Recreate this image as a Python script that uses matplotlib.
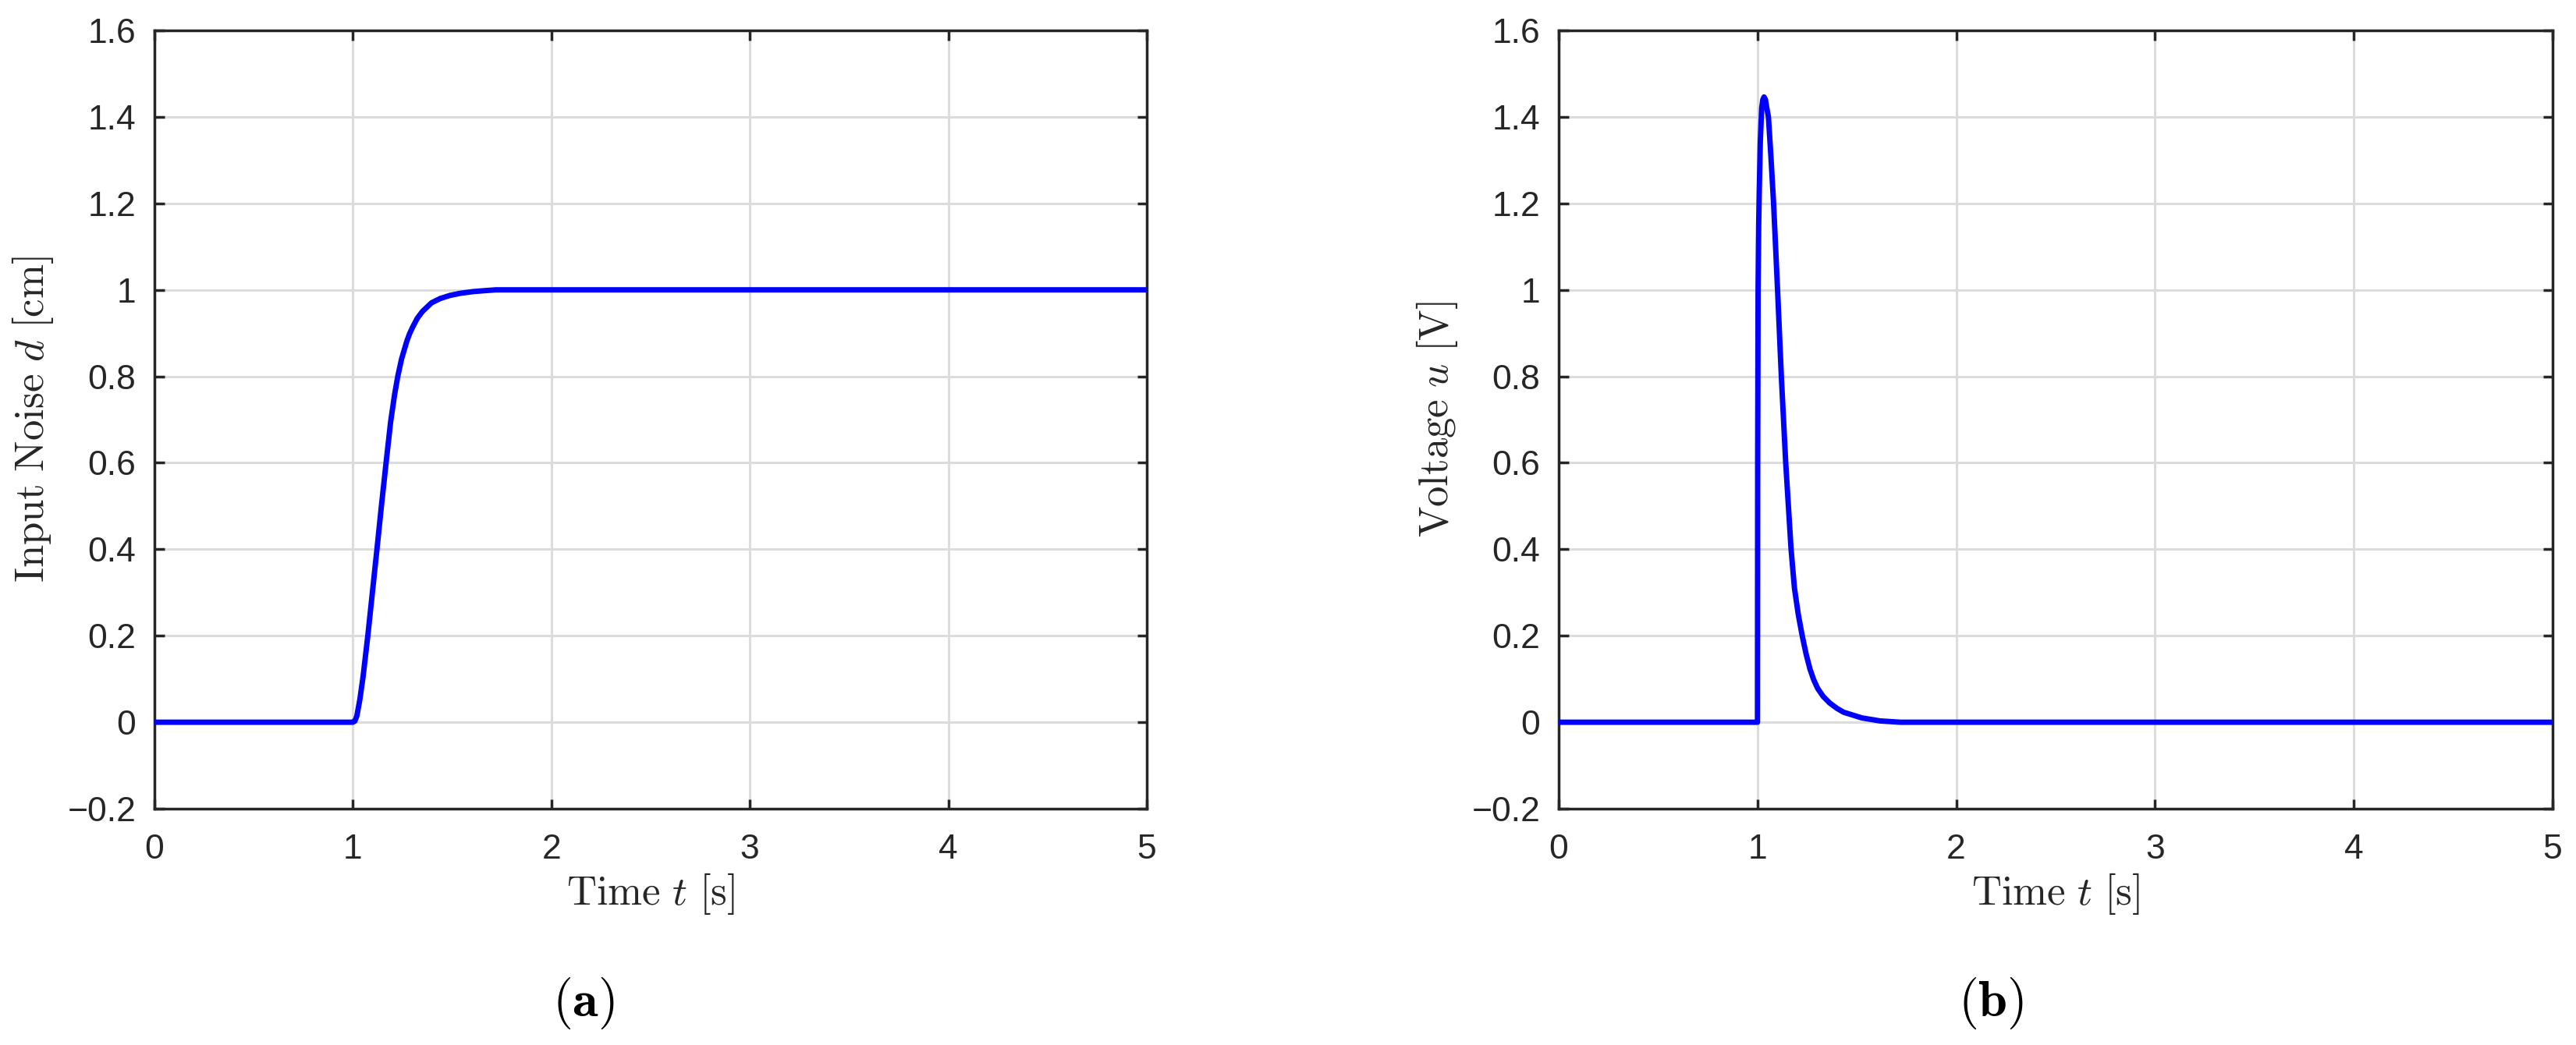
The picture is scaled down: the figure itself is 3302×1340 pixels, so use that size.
import matplotlib
matplotlib.use("Agg")
import matplotlib.pyplot as plt

# values
t_d = [0.0, 1.0, 1.01, 1.02, 1.035, 1.051, 1.075, 1.098, 1.121, 1.143, 1.167, 1.19,
       1.21, 1.226, 1.245, 1.272, 1.285, 1.30, 1.324, 1.35, 1.396, 1.44, 1.488,
       1.54, 1.606, 1.66, 1.72, 5.0]
d = [0.0, 0.0, 0.003, 0.015, 0.053, 0.105, 0.2, 0.3, 0.4, 0.498, 0.6, 0.695,
     0.758, 0.8, 0.84, 0.882, 0.898, 0.913, 0.934, 0.950, 0.970, 0.980, 0.987,
     0.992, 0.996, 0.998, 1.0, 1.0]

t_u = [0.0, 1.0, 1.001, 1.003, 1.006, 1.009, 1.014, 1.021, 1.027, 1.033, 1.040,
       1.047, 1.055, 1.068, 1.081, 1.101, 1.120, 1.142, 1.169, 1.186, 1.205,
       1.225, 1.245, 1.264, 1.283, 1.303, 1.33, 1.362, 1.40, 1.434, 1.525, 1.617,
       1.72, 5.0]
u = [0.0, 0.0, 0.6, 1.0, 1.15, 1.23, 1.34, 1.42, 1.44, 1.446, 1.44, 1.42, 1.4,
     1.305, 1.2, 1.0, 0.8, 0.6, 0.4, 0.31, 0.25, 0.2, 0.157, 0.123, 0.098,
     0.078, 0.06, 0.045, 0.032, 0.023, 0.01, 0.003, 0.0, 0.0]

x_ticks = [0, 1, 2, 3, 4, 5]
y_ticks = [-0.2, 0, 0.2, 0.4, 0.6, 0.8, 1, 1.2, 1.4, 1.6]
y_ticklabels = ["\u22120.2", "0", "0.2", "0.4", "0.6", "0.8", "1", "1.2", "1.4", "1.6"]

xlabel = r"$\mathrm{Time}\ t\ \mathrm{[s]}$"
ylabels = [r"$\mathrm{Input\ Noise}\ d\ \mathrm{[cm]}$", r"$\mathrm{Voltage}\ u\ \mathrm{[V]}$"]
captions = [r"$(\mathbf{a})$", r"$(\mathbf{b})$"]

plt.rcParams["mathtext.fontset"] = "cm"
tick_font = ["Liberation Sans Narrow", "Liberation Sans", "DejaVu Sans"]
dark = "#262626"

W, H = 3302, 1340
fig = plt.figure(figsize=(W / 100, H / 100), dpi=100)

# axes boxes in pixels: left, top, right, bottom
boxes = [(198, 39, 1470, 1037), (1998, 39, 3272, 1037)]
caption_x = [748, 2552]
series = [(t_d, d), (t_u, u)]

for i in range(2):
    l, t, r, b = boxes[i]
    ax = fig.add_axes([l / W, 1 - b / H, (r - l) / W, (b - t) / H])
    ax.plot(series[i][0], series[i][1], color=(0, 0, 1), lw=5, zorder=3)
    ax.set_xlim(0, 5)
    ax.set_ylim(-0.2, 1.6)
    ax.set_xticks(x_ticks)
    ax.set_yticks(y_ticks)
    ax.set_xticklabels([str(v) for v in x_ticks], family=tick_font, fontsize=32, color=dark)
    ax.set_yticklabels(y_ticklabels, family=tick_font, fontsize=32, color=dark)
    ax.grid(True, color="#dcdcdc", lw=2.2, zorder=0)
    ax.set_axisbelow(True)
    ax.tick_params(direction="in", length=9, width=2.5, color=dark,
                   top=True, right=True)
    ax.tick_params(axis="x", pad=23)
    ax.tick_params(axis="y", pad=17)
    for s in ax.spines.values():
        s.set_linewidth(2.5)
        s.set_color(dark)
    ax.set_xlabel(xlabel, fontsize=38, color=dark, va="baseline")
    ax.xaxis.set_label_coords(0.5, (1037 - 1160) / 998)
    ax.set_ylabel(ylabels[i], fontsize=38, color=dark, va="center")
    ax.yaxis.set_label_coords((42 - 198) / 1272, 0.5)
    fig.text(caption_x[i] / W, 1 - 1287 / H, captions[i], fontsize=48,
             ha="center", va="center")

fig.savefig("out.png", dpi=100)
